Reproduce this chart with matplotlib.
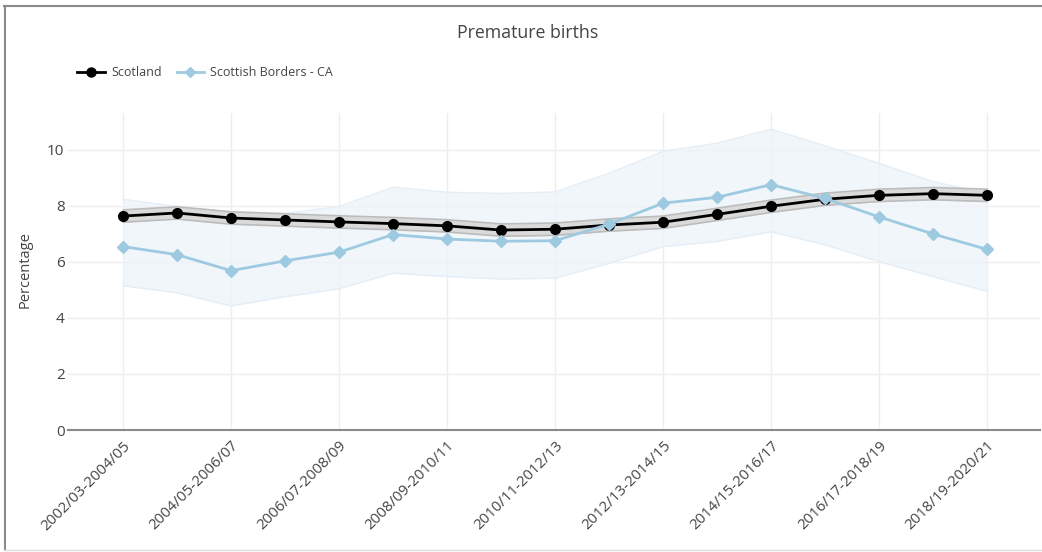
import matplotlib
matplotlib.use("Agg")
import matplotlib.pyplot as plt
from matplotlib.lines import Line2D

plt.rcParams['font.family'] = ['Open Sans', 'DejaVu Sans']

periods = ["2002/03-2004/05", "2003/04-2005/06", "2004/05-2006/07", "2005/06-2007/08",
           "2006/07-2008/09", "2007/08-2009/10", "2008/09-2010/11", "2009/10-2011/12",
           "2010/11-2012/13", "2011/12-2013/14", "2012/13-2014/15", "2013/14-2015/16",
           "2014/15-2016/17", "2015/16-2017/18", "2016/17-2018/19", "2017/18-2019/20",
           "2018/19-2020/21"]

scotland = [7.64, 7.75, 7.57, 7.50, 7.43, 7.37, 7.29, 7.14, 7.17, 7.32, 7.42, 7.70,
            7.99, 8.24, 8.38, 8.44, 8.38]
scotland_lower = [7.42, 7.53, 7.35, 7.28, 7.21, 7.15, 7.07, 6.92, 6.95, 7.10, 7.20, 7.48,
                  7.77, 8.02, 8.16, 8.22, 8.16]
scotland_upper = [7.86, 7.97, 7.79, 7.72, 7.65, 7.59, 7.51, 7.36, 7.39, 7.54, 7.64, 7.92,
                  8.21, 8.46, 8.60, 8.66, 8.60]

borders = [6.55, 6.26, 5.69, 6.04, 6.35, 6.98, 6.82, 6.74, 6.76, 7.35, 8.10, 8.31,
           8.76, 8.27, 7.61, 7.00, 6.45]
borders_lower = [5.15, 4.90, 4.43, 4.76, 5.04, 5.60, 5.48, 5.39, 5.42, 5.95, 6.55, 6.73,
                 7.08, 6.61, 6.01, 5.48, 4.95]
borders_upper = [8.24, 7.98, 7.80, 7.74, 7.98, 8.67, 8.49, 8.45, 8.50, 9.17, 9.95, 10.24,
                 10.74, 10.15, 9.52, 8.87, 8.45]

title = "Premature births"
ylabel = "Percentage"
yticks = [0, 2, 4, 6, 8, 10]

x = list(range(len(periods)))

fig = plt.figure(figsize=(10.42, 5.52), dpi=100)
ax = fig.add_axes([68/1042, 1 - 430/552, (1040-68)/1042, (430-113)/552])

# Borders CI
ax.fill_between(x, borders_lower, borders_upper, color='#eef4fa', alpha=0.8, lw=0, zorder=1)
ax.plot(x, borders_upper, color='#e4eef7', lw=1, zorder=1.1)
ax.plot(x, borders_lower, color='#e4eef7', lw=1, zorder=1.1)

# Scotland CI
ax.fill_between(x, scotland_lower, scotland_upper, color='#d6d6d6', alpha=0.85, lw=0, zorder=2)
ax.plot(x, scotland_upper, color='#bcbcbc', lw=1.2, zorder=2.1)
ax.plot(x, scotland_lower, color='#bcbcbc', lw=1.2, zorder=2.1)

ax.plot(x, scotland, color='#000000', lw=2, marker='o', markersize=7, zorder=3,
        label='Scotland')
ax.plot(x, borders, color='#9ecae1', lw=2, marker='D', markersize=6, zorder=4,
        label='Scottish Borders - CA')

ax.set_xlim(-1.02, 16.98)
ax.set_ylim(0, 11.32)
ax.set_yticks(yticks)
ax.set_yticklabels([str(v) for v in yticks], fontsize=11, color='#444444')
ax.set_xticks(x[::2])
ax.set_xticklabels(periods[::2], rotation=45, ha='right', rotation_mode='anchor',
                   fontsize=10.8, color='#444444')
ax.tick_params(axis='both', length=0)
ax.tick_params(axis='y', pad=2.5)
ax.tick_params(axis='x', pad=6)
ax.grid(True, color='#eeeeee', lw=1, zorder=0)
ax.set_axisbelow(True)
for s in ['top', 'right', 'left']:
    ax.spines[s].set_visible(False)
ax.spines['bottom'].set_color('#8a8a8a')
ax.spines['bottom'].set_linewidth(1.5)

ax.set_ylabel(ylabel, fontsize=10.5, color='#444444')
ax.yaxis.set_label_coords((33 - 68) / 972, 0.505)

fig.text(528/1042, 1 - 33/552, title, ha='center', va='center', fontsize=12.8, color='#444444')

handles = [Line2D([0], [0], color='#000000', lw=2, marker='o', markersize=6.5),
           Line2D([0], [0], color='#9ecae1', lw=2, marker='D', markersize=5.5)]
fig.legend(handles, ['Scotland', 'Scottish Borders - CA'], loc='center left',
           bbox_to_anchor=(66/1042, 1 - 73/552), ncol=2, frameon=False, fontsize=9,
           handlelength=2.2, columnspacing=1.2, handletextpad=0.5, labelcolor='#444444')

# outer frame: top and left darker, bottom faint
fig.add_artist(Line2D([4/1042, 1], [1 - 6/552, 1 - 6/552], transform=fig.transFigure,
                      color='#8a8a8a', lw=1.5))
fig.add_artist(Line2D([4.5/1042, 4.5/1042], [1 - 6/552, 2/552], transform=fig.transFigure,
                      color='#8a8a8a', lw=1.5))
fig.add_artist(Line2D([4/1042, 1], [2/552, 2/552], transform=fig.transFigure,
                      color='#dddddd', lw=1))

fig.savefig('out.png', dpi=100)
